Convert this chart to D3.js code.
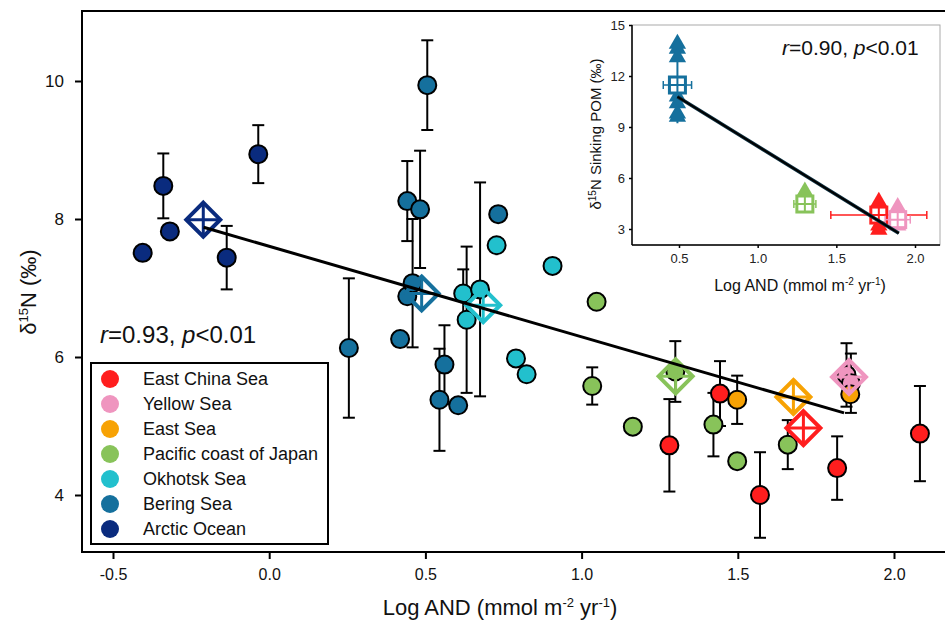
<!DOCTYPE html>
<html><head><meta charset="utf-8">
<script src="https://cdn.jsdelivr.net/npm/d3@7"></script>
<style>body{margin:0;background:#fff;} svg{display:block;font-family:"Liberation Sans",Arial,sans-serif;}</style>
</head><body><svg id="c" width="945" height="628"></svg>
<script>
// ---------- DATA ----------
const regions = ["East China Sea","Yellow Sea","East Sea","Pacific coast of Japan","Okhotsk Sea","Bering Sea","Arctic Ocean"];
const regionColors = ["#ff1e1e","#ef95bf","#f7a204","#88c35a","#22c0cd","#15709d","#0a2b7e"];

// individual stations: x = Log AND, y = d15N, e = error (0 = none)
const ecsX = [1.281,1.443,1.571,1.818,2.083], ecsY = [4.72,5.47,4.00,4.39,4.89], ecsE = [0.67,0.47,0.62,0.46,0.69];
const ysX = [1.848,1.862], ysY = [5.74,5.62], ysE = [0.46,0.43];
const esX = [1.498,1.860], esY = [5.38,5.46], esE = [0.35,0];
const pcjX = [1.034,1.048,1.164,1.300,1.422,1.498,1.660], pcjY = [5.58,6.80,4.99,5.79,5.02,4.49,4.73], pcjE = [0.27,0,0,0.44,0.46,0,0.355];
const okhX = [0.621,0.632,0.675,0.728,0.790,0.824,0.907], okhY = [6.92,6.54,6.98,7.62,5.98,5.75,7.32], okhE = [0.35,1.06,1.55,0,0,0,0];
const berX = [0.255,0.419,0.442,0.442,0.459,0.483,0.506,0.545,0.561,0.605,0.733], berY = [6.13,6.26,8.26,6.88,7.07,8.14,9.94,5.38,5.89,5.30,8.07], berE = [1.01,0,0.58,0,0.93,0.85,0.65,0.74,0.57,0,0];
const arcX = [-0.405,-0.339,-0.318,-0.136,-0.035], arcY = [7.51,8.48,7.82,7.44,8.94], arcE = [0,0.47,0,0.46,0.42];

// regional means (diamonds), in region order
const meanX = [1.710,1.856,1.678,1.301,0.685,0.488,-0.211];
const meanY = [4.97,5.71,5.42,5.72,6.75,6.92,7.99];

// regression line end points
const fitX = [-0.21,1.84], fitY = [7.88,5.19];

const xTicks = [-0.5,0.0,0.5,1.0,1.5,2.0];
const xTickLabels = ["-0.5","0.0","0.5","1.0","1.5","2.0"];
const yTicks = [4,6,8,10];

// inset: sinking POM
const insRegion = [5,3,0,1]; // indices into regions
const insX = [0.49,1.30,1.77,1.89];
const insMean = [11.47,4.47,3.82,3.55];
const insXErr = [0.09,0.07,0.305,0.08];
const insYErr = [2.25,0.45,0.6,0.5];
const insTri = [[13.9,13.6,13.1,10.8,10.4,9.8,9.6],[5.2,4.6,4.3],[4.6,4.0,3.2,2.95],[4.3,3.6,3.2]];
const insFitX = [0.49,1.897], insFitY = [10.78,2.75];
const insXTicks = [0.5,1.0,1.5,2.0];
const insYTicks = [3,6,9,12,15];

// ---------- DRAW ----------
const svg = d3.select("#c");
const L = 82, T = 11, B = 552, R = 948;
const x = d3.scaleLinear().domain([-0.5,2.0]).range([113,894]);
const y = d3.scaleLinear().domain([4,10]).range([495,81]);

const series = [
  [ecsX,ecsY,ecsE],[ysX,ysY,ysE],[esX,esY,esE],[pcjX,pcjY,pcjE],
  [okhX,okhY,okhE],[berX,berY,berE],[arcX,arcY,arcE]
];
const drawOrder = [6,5,4,3,1,2,0];
const pts = [];
drawOrder.forEach(i => {
  const [xs,ys,es] = series[i];
  xs.forEach((v,j) => pts.push({x:v,y:ys[j],e:es[j],c:regionColors[i]}));
});

// error bars
const eb = svg.append("g").attr("stroke","#000").attr("stroke-width",2).attr("fill","none");
pts.filter(d=>d.e>0).forEach(d=>{
  const cx = x(d.x);
  eb.append("line").attr("x1",cx).attr("x2",cx).attr("y1",y(d.y+d.e)).attr("y2",y(d.y-d.e));
  eb.append("line").attr("x1",cx-6).attr("x2",cx+6).attr("y1",y(d.y+d.e)).attr("y2",y(d.y+d.e));
  eb.append("line").attr("x1",cx-6).attr("x2",cx+6).attr("y1",y(d.y-d.e)).attr("y2",y(d.y-d.e));
});
// circles
svg.append("g").selectAll("circle").data(pts).join("circle")
  .attr("cx",d=>x(d.x)).attr("cy",d=>y(d.y)).attr("r",9)
  .attr("fill",d=>d.c).attr("stroke","#000").attr("stroke-width",2);

// diamonds
const dg = svg.append("g").attr("fill","none").attr("stroke-linejoin","miter");
meanX.forEach((mx,i)=>{
  const cx = x(mx), cy = y(meanY[i]), h = 17, c = regionColors[i];
  dg.append("path").attr("d",`M${cx},${cy-h}L${cx+h},${cy}L${cx},${cy+h}L${cx-h},${cy}Z`)
    .attr("stroke",c).attr("stroke-width",4);
  dg.append("path").attr("d",`M${cx},${cy-h}V${cy+h}M${cx-h},${cy}H${cx+h}`)
    .attr("stroke",c).attr("stroke-width",3);
});

// regression
svg.append("line").attr("x1",x(fitX[0])).attr("y1",y(fitY[0])).attr("x2",x(fitX[1])).attr("y2",y(fitY[1]))
  .attr("stroke","#000").attr("stroke-width",3);

// frame
svg.append("rect").attr("x",L).attr("y",T).attr("width",R-L).attr("height",B-T)
  .attr("fill","none").attr("stroke","#000").attr("stroke-width",2);

// axes
const xa = svg.append("g").attr("transform",`translate(0,${B})`)
  .call(d3.axisBottom(x).tickValues(xTicks).tickFormat((d,i)=>xTickLabels[i]).tickSize(7).tickPadding(10));
const ya = svg.append("g").attr("transform",`translate(${L},0)`)
  .call(d3.axisLeft(y).tickValues(yTicks).tickFormat(d3.format("d")).tickSize(7).tickPadding(11));
[xa,ya].forEach(a=>{
  a.select(".domain").remove();
  a.selectAll(".tick line").attr("stroke","#000").attr("stroke-width",2);
  a.selectAll("text").attr("fill","#111").style("font-size","16px").style("font-family","'Liberation Sans',Arial,sans-serif");
});
ya.selectAll("text").style("font-size","17px");

// axis titles
const xt = svg.append("text").attr("x",500).attr("y",615).attr("text-anchor","middle")
  .style("font-size","22px").attr("fill","#111");
xt.append("tspan").text("Log AND (mmol m");
xt.append("tspan").text("-2").attr("dy",-8).style("font-size","13px");
xt.append("tspan").text(" yr").attr("dy",8);
xt.append("tspan").text("-1").attr("dy",-8).style("font-size","13px");
xt.append("tspan").text(")").attr("dy",8);

const yt = svg.append("text").attr("transform","translate(36,292) rotate(-90)").attr("text-anchor","middle")
  .style("font-size","22px").attr("fill","#111");
yt.append("tspan").text("δ");
yt.append("tspan").text("15").attr("dy",-8).style("font-size","13px");
yt.append("tspan").text("N (‰)").attr("dy",8);

// r text
const rt = svg.append("text").attr("x",100).attr("y",343).style("font-size","24px").attr("fill","#111");
rt.append("tspan").text("r").style("font-style","italic");
rt.append("tspan").text("=0.93, ");
rt.append("tspan").text("p").style("font-style","italic");
rt.append("tspan").text("<0.01");

// legend
const lg = svg.append("g");
lg.append("rect").attr("x",91).attr("y",363).attr("width",237).attr("height",181)
  .attr("fill","#fff").attr("stroke","#000").attr("stroke-width",2);
regions.forEach((r,i)=>{
  const yy = 379 + i*25;
  lg.append("circle").attr("cx",110).attr("cy",yy).attr("r",9).attr("fill",regionColors[i]);
  lg.append("text").attr("x",143).attr("y",yy+6).text(r).style("font-size","18px").attr("fill","#111");
});

// ---------- INSET ----------
const iL = 632, iT = 25, iB = 245, iR = 940;
const ix = d3.scaleLinear().domain([0.5,2.0]).range([679,915]);
const iy = d3.scaleLinear().domain([3,15]).range([229,25]);
const ig = svg.append("g");
ig.append("rect").attr("x",iL).attr("y",iT).attr("width",iR-iL).attr("height",iB-iT)
  .attr("fill","#fff").attr("stroke","#aaa").attr("stroke-width",1);

const tri = d3.symbol().type(d3.symbolTriangle).size(130);
const sq = 8;
insX.forEach((xv,k)=>{
  const c = regionColors[insRegion[k]];
  const cx = ix(xv), cy = iy(insMean[k]);
  const g = ig.append("g");
  g.append("line").attr("x1",cx).attr("x2",cx).attr("y1",iy(insMean[k]+insYErr[k])).attr("y2",iy(insMean[k]-insYErr[k])).attr("stroke",c).attr("stroke-width",2);
  insTri[k].forEach(v=>{
    g.append("path").attr("d",tri).attr("transform",`translate(${cx},${iy(v)})`).attr("fill",c);
  });
  const x0 = ix(xv-insXErr[k]), x1 = ix(xv+insXErr[k]);
  g.append("line").attr("x1",x0).attr("x2",x1).attr("y1",cy).attr("y2",cy).attr("stroke",c).attr("stroke-width",1.5);
  g.append("line").attr("x1",x0).attr("x2",x0).attr("y1",cy-4).attr("y2",cy+4).attr("stroke",c).attr("stroke-width",1.5);
  g.append("line").attr("x1",x1).attr("x2",x1).attr("y1",cy-4).attr("y2",cy+4).attr("stroke",c).attr("stroke-width",1.5);
  g.append("rect").attr("x",cx-sq).attr("y",cy-sq).attr("width",2*sq).attr("height",2*sq)
    .attr("fill","#fff").attr("stroke",c).attr("stroke-width",3);
  g.append("path").attr("d",`M${cx},${cy-sq}V${cy+sq}M${cx-sq},${cy}H${cx+sq}`).attr("stroke",c).attr("stroke-width",2);
});
ig.append("line").attr("x1",ix(insFitX[0])).attr("y1",iy(insFitY[0])).attr("x2",ix(insFitX[1])).attr("y2",iy(insFitY[1]))
  .attr("stroke","#0d3040").attr("stroke-width",3.5);
ig.append("line").attr("x1",ix(insFitX[0])).attr("y1",iy(insFitY[0])).attr("x2",ix(insFitX[1])).attr("y2",iy(insFitY[1]))
  .attr("stroke","#000").attr("stroke-width",2);

const ixa = ig.append("g").attr("transform",`translate(0,${iB})`)
  .call(d3.axisBottom(ix).tickValues(insXTicks).tickFormat(d3.format(".1f")).tickSize(3).tickPadding(6));
const iya = ig.append("g").attr("transform",`translate(${iL},0)`)
  .call(d3.axisLeft(iy).tickValues(insYTicks).tickSize(3).tickPadding(4));
[ixa,iya].forEach(a=>{
  a.select(".domain").remove();
  a.selectAll(".tick line").attr("stroke","#000").attr("stroke-width",1.5);
  a.selectAll("text").attr("fill","#222").style("font-size","13px").style("font-family","'Liberation Sans',Arial,sans-serif");
});
ig.append("line").attr("x1",iL).attr("x2",iL).attr("y1",iT).attr("y2",iB).attr("stroke","#000").attr("stroke-width",1.5);
ig.append("line").attr("x1",iL).attr("x2",iR).attr("y1",iB).attr("y2",iB).attr("stroke","#000").attr("stroke-width",1.5);

const ixt = ig.append("text").attr("x",800).attr("y",291).attr("text-anchor","middle").style("font-size","16px").attr("fill","#111");
ixt.append("tspan").text("Log AND (mmol m");
ixt.append("tspan").text("-2").attr("dy",-6).style("font-size","10px");
ixt.append("tspan").text(" yr").attr("dy",6);
ixt.append("tspan").text("-1").attr("dy",-6).style("font-size","10px");
ixt.append("tspan").text(")").attr("dy",6);

const iyt = ig.append("text").attr("transform","translate(601,134) rotate(-90)").attr("text-anchor","middle").style("font-size","15px").attr("fill","#111");
iyt.append("tspan").text("δ");
iyt.append("tspan").text("15").attr("dy",-5).style("font-size","10px");
iyt.append("tspan").text("N Sinking POM (‰)").attr("dy",5);

const irt = ig.append("text").attr("x",782).attr("y",55).style("font-size","21px").attr("fill","#111");
irt.append("tspan").text("r").style("font-style","italic");
irt.append("tspan").text("=0.90, ");
irt.append("tspan").text("p").style("font-style","italic");
irt.append("tspan").text("<0.01");
</script></body></html>
